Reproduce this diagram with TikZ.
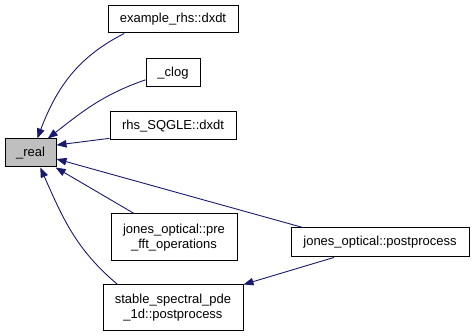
\documentclass[tikz,border=0pt]{standalone}
\usepackage{fontspec}
\setmainfont{Liberation Sans}
\usepackage{xcolor}
\usetikzlibrary{arrows.meta}
\definecolor{callblue}{HTML}{191970}
\tikzset{
	fnode/.style = {shape=rectangle, draw=black, line width=1pt,
		align=center, inner sep=0pt, minimum height=28pt, fill=white},
	focus/.style = {fnode, fill=black!25},
	call/.style  = {draw=callblue, line width=0.9pt,
		-{Triangle[length=10pt,width=7.5pt]}}
}

\begin{document}
\begin{tikzpicture}
[
x                 = 1pt,
y                 = 1pt,
every node/.style = {font=\fontsize{13}{15}\selectfont}
]
\useasboundingbox (0,0) rectangle (475,336);
\node [focus, minimum width=51pt] (real) at (30.5,183) {\_real};
\node [fnode, minimum width=130pt, minimum height=27pt] (exrhs) at (173,316.5) {example\_rhs::dxdt};
\node [fnode, minimum width=54pt] (clog) at (173,263) {\_clog};
\node [fnode, minimum width=126pt] (rhs) at (173,210) {rhs\_SQGLE::dxdt};
\node [fnode, minimum width=126pt, minimum height=47pt] (jonespre) at (174,98.5) {jones\_optical::pre\\\_fft\_operations};
\node [fnode, minimum width=140pt, minimum height=46pt] (stable) at (173,28) {stable\_spectral\_pde\\\_1d::postprocess};
\node [fnode, minimum width=178pt, minimum height=29pt] (jonespost) at (380,93.5) {jones\_optical::postprocess};

\draw [call] (exrhs.196) to [out=207, in=69] (real.65);
\draw [call] (clog.194) to [out=199, in=38] (real.40);
\draw [call] (rhs.191) -- (real.17);
\draw [call] (jonespost.169) -- (real.347);
\draw [call] (jonespre.149) -- (real.330);
\draw [call] (stable.157) to [out=140, in=-66] (real.304);
\draw [call] (jonespost.198) -- (stable.north east);
\end{tikzpicture}
\end{document}
